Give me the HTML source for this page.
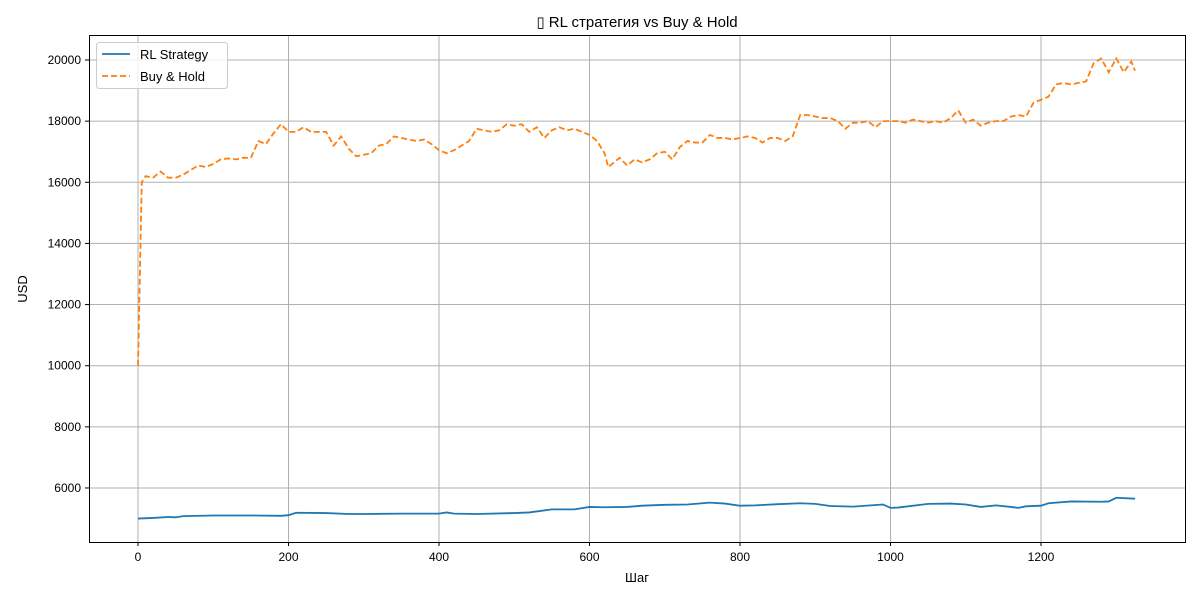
<!DOCTYPE html>
<html><head><meta charset="utf-8"><style>
body{margin:0;background:#fff;}
svg{font-family:"Liberation Sans","DejaVu Sans",sans-serif;}
</style></head><body>
<svg id="chart" width="1200" height="600" viewBox="0 0 1200 600">
<rect width="1200" height="600" fill="#fff"/>
<text x="637" y="27" text-anchor="middle" font-size="15">▯ RL стратегия vs Buy &amp; Hold</text>
<g id="grid"></g>
<g id="series"></g>
<rect x="89.5" y="35.5" width="1096" height="507" fill="none" stroke="#000" stroke-width="1"/>
<g id="ticks"></g>
<text x="637" y="582" text-anchor="middle" font-size="13">Шаг</text>
<text transform="translate(27,289) rotate(-90)" text-anchor="middle" font-size="13">USD</text>
<g>
<rect x="96.5" y="42.5" width="131" height="46" rx="3" fill="#fff" fill-opacity="0.8" stroke="#ccc"/>
<g>
<line x1="102" y1="54" x2="130" y2="54" stroke="#1f77b4" stroke-width="1.8"/>
<text x="140" y="59" font-size="13">RL Strategy</text></g>
<g>
<line x1="102" y1="76" x2="130" y2="76" stroke="#ff7f0e" stroke-width="1.8" stroke-dasharray="6,3"/>
<text x="140" y="81" font-size="13">Buy &amp; Hold</text></g>
</g>
</svg>
<script>
const xTicks=[0,200,400,600,800,1000,1200];
const yTicks=[6000,8000,10000,12000,14000,16000,18000,20000];
const bhSteps=[0,5,10,20,30,40,50,60,70,80,90,100,110,120,130,140,150,160,170,180,190,200,210,220,230,240,250,260,270,280,290,300,310,320,330,340,350,360,370,380,390,400,410,420,430,440,450,460,470,480,490,500,510,520,530,540,550,560,570,580,590,600,610,620,625,640,650,660,670,680,690,700,710,720,730,740,750,760,770,780,790,800,810,820,830,840,850,860,870,880,890,900,910,920,930,940,950,960,970,980,990,1000,1010,1020,1030,1040,1050,1060,1070,1080,1090,1100,1110,1120,1130,1140,1150,1160,1170,1180,1190,1200,1210,1220,1230,1240,1250,1260,1270,1280,1290,1300,1310,1320,1325];
const bhValues=[10000,16000,16200,16150,16350,16150,16150,16250,16400,16550,16500,16600,16750,16780,16750,16800,16800,17350,17250,17600,17900,17650,17650,17800,17650,17650,17650,17200,17500,17100,16850,16900,16950,17200,17250,17500,17450,17400,17350,17400,17250,17050,16950,17050,17200,17350,17750,17700,17650,17700,17900,17850,17900,17650,17800,17450,17700,17800,17700,17750,17650,17550,17350,16950,16500,16800,16550,16750,16650,16750,16950,17000,16750,17150,17350,17300,17300,17550,17450,17450,17400,17450,17500,17450,17300,17450,17450,17350,17500,18200,18200,18150,18100,18100,18000,17750,17950,17950,18000,17800,18000,18000,18000,17950,18050,18000,17950,18000,17950,18100,18350,17950,18050,17850,17950,18000,18000,18150,18200,18150,18600,18700,18800,19200,19250,19200,19250,19300,19900,20050,19600,20050,19600,19950,19650];
const rlSteps=[0,20,40,50,60,100,150,190,200,210,250,280,300,350,400,410,420,450,500,520,550,580,600,620,650,670,700,730,760,780,800,820,850,880,900,920,950,990,1000,1010,1050,1080,1100,1120,1140,1160,1170,1180,1200,1210,1240,1280,1290,1300,1325];
const rlValues=[5000,5020,5050,5040,5080,5100,5100,5090,5110,5190,5180,5150,5150,5160,5160,5200,5160,5150,5180,5200,5300,5300,5380,5370,5380,5420,5450,5460,5520,5490,5420,5430,5470,5500,5480,5410,5390,5460,5350,5360,5480,5490,5460,5380,5430,5380,5350,5400,5420,5500,5560,5550,5560,5680,5650];
const X=v=>138+v*0.7525, Y=v=>60+(20000-v)*0.03057;
const ns="http://www.w3.org/2000/svg";
const grid=document.getElementById('grid'),ticks=document.getElementById('ticks'),ser=document.getElementById('series');
function mk(tag,at,par){const e=document.createElementNS(ns,tag);for(const k in at)e.setAttribute(k,at[k]);par.appendChild(e);return e;}
xTicks.forEach(t=>{const x=X(t);
 const g=mk('line',{x1:x,y1:35,x2:x,y2:542,stroke:'#b0b0b0','stroke-width':1},grid);
 
 
 mk('line',{x1:x,y1:542,x2:x,y2:546,stroke:'#000'},ticks);
 const l=mk('text',{x:x,y:561,'text-anchor':'middle','font-size':12},ticks);l.textContent=t;
 
 });
yTicks.forEach(t=>{const y=Y(t);
 const g=mk('line',{x1:89,y1:y,x2:1185,y2:y,stroke:'#b0b0b0','stroke-width':1},grid);
 
 
 mk('line',{x1:85,y1:y,x2:89,y2:y,stroke:'#000'},ticks);
 const l=mk('text',{x:81,y:y+4,'text-anchor':'end','font-size':12},ticks);l.textContent=t;
 
 });
const rl=mk('polyline',{points:rlSteps.map((s,i)=>X(s)+','+Y(rlValues[i])).join(' '),fill:'none',stroke:'#1f77b4','stroke-width':1.8},ser);


const bh=mk('polyline',{points:bhSteps.map((s,i)=>X(s)+','+Y(bhValues[i])).join(' '),fill:'none',stroke:'#ff7f0e','stroke-width':1.8,'stroke-dasharray':'6,3'},ser);


</script>
</body></html>
